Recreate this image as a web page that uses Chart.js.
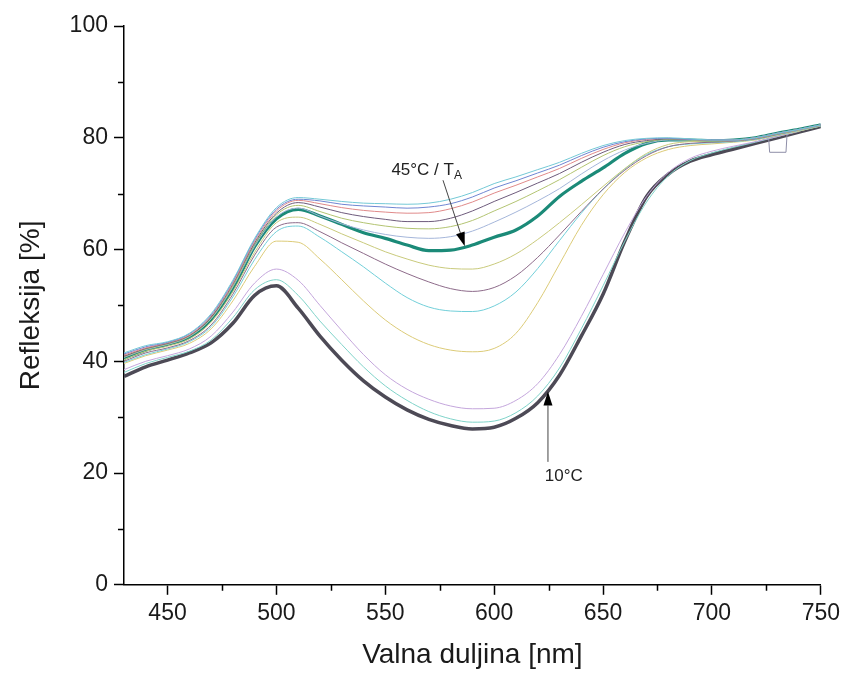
<!DOCTYPE html>
<html>
<head>
<meta charset="utf-8">
<script src="https://cdn.jsdelivr.net/npm/chart.js@4.4.7/dist/chart.umd.min.js"></script>
<style>
  html, body { margin: 0; padding: 0; background: #fff; }
  #wrap { width: 845px; height: 675px; }
</style>
</head>
<body>
<div id="wrap"><canvas id="spectra" width="845" height="675"></canvas></div>
<script>
    // wavelengths [nm] shared by all curves
    var wavelengths = [430, 440, 450, 460, 470, 480, 490, 500, 510, 520, 530, 540, 550, 560, 570, 580,
      590, 600, 610, 620, 630, 640, 650, 660, 670, 680, 690, 700, 710, 720, 730, 740, 750];

    // reflectance [%], top to bottom at the 580 nm dip
    var reflCyanTop = [41.5, 42.8, 43.5, 45.0, 48.5, 54.5, 62.0, 67.5, 69.3, 69.0, 68.6, 68.3, 68.2, 68.1, 68.3, 69.0,
      70.2, 71.8, 73.0, 74.3, 75.6, 77.2, 78.6, 79.5, 79.9, 80.0, 79.8, 79.6, 79.6, 80.0, 80.8, 81.5, 82.3];
    var reflBlue = [41.3, 42.6, 43.4, 44.9, 48.3, 54.3, 61.8, 67.2, 69.0, 68.7, 68.1, 67.8, 67.6, 67.4, 67.6, 68.2,
      69.4, 71.0, 72.3, 73.7, 75.1, 76.8, 78.3, 79.3, 79.8, 79.9, 79.7, 79.6, 79.6, 80.0, 80.8, 81.5, 82.3];
    var reflRed = [41.1, 42.4, 43.3, 44.7, 48.1, 54.0, 61.5, 66.9, 68.8, 68.2, 67.5, 67.0, 66.7, 66.5, 66.6, 67.3,
      68.5, 70.1, 71.5, 73.0, 74.5, 76.3, 77.9, 79.1, 79.7, 79.9, 79.7, 79.6, 79.6, 80.0, 80.8, 81.5, 82.3];
    var reflDarkPurple = [40.9, 42.3, 43.2, 44.6, 47.9, 53.8, 61.2, 66.5, 68.4, 67.6, 66.6, 65.9, 65.4, 65.0, 65.0, 65.6,
      66.9, 68.6, 70.2, 71.9, 73.6, 75.6, 77.4, 78.8, 79.5, 79.8, 79.7, 79.6, 79.6, 80.0, 80.8, 81.5, 82.3];
    var reflOlive = [40.8, 42.2, 43.1, 44.5, 47.7, 53.5, 60.9, 66.2, 67.9, 66.8, 65.6, 64.8, 64.2, 63.8, 63.7, 64.1,
      65.2, 66.9, 68.6, 70.5, 72.5, 74.7, 76.8, 78.4, 79.3, 79.7, 79.6, 79.5, 79.6, 80.0, 80.8, 81.5, 82.3];
    var reflSteel = [40.7, 42.1, 43.0, 44.4, 47.6, 53.3, 60.6, 65.8, 67.4, 66.0, 64.6, 63.5, 62.7, 62.2, 62.0, 62.3,
      63.3, 64.9, 66.7, 68.7, 70.9, 73.5, 75.9, 77.8, 79.0, 79.6, 79.6, 79.5, 79.6, 80.0, 80.8, 81.5, 82.3];
    var refl45C = [40.5, 42.0, 43.0, 44.3, 47.5, 53.0, 60.5, 65.5, 67.2, 66.0, 64.5, 63.0, 62.0, 60.8, 59.8, 59.9,
      60.8, 62.2, 63.5, 66.0, 69.5, 72.2, 74.6, 77.2, 79.0, 79.6, 79.6, 79.5, 79.6, 80.0, 80.8, 81.5, 82.3];
    var reflYellowGreen = [40.3, 41.8, 42.7, 44.0, 47.0, 52.5, 59.5, 64.8, 65.8, 64.5, 62.8, 61.2, 59.6, 58.3, 57.2, 56.6,
      56.5, 57.4, 59.2, 61.8, 64.8, 68.0, 71.3, 74.5, 77.2, 78.8, 79.3, 79.4, 79.5, 79.9, 80.7, 81.4, 82.2];
    var reflPlum = [40.0, 41.5, 42.4, 43.7, 46.5, 52.0, 59.0, 64.0, 64.8, 63.2, 61.2, 59.3, 57.4, 55.7, 54.2, 53.0,
      52.5, 53.2, 55.3, 58.6, 62.6, 66.8, 70.8, 74.2, 76.8, 78.4, 79.0, 79.2, 79.4, 79.8, 80.6, 81.4, 82.2];
    var reflCyanMid = [39.8, 41.2, 42.2, 43.5, 46.2, 51.5, 58.2, 63.2, 64.2, 62.2, 59.6, 56.9, 54.0, 51.4, 49.7, 49.0,
      48.9, 49.9, 52.4, 56.6, 61.6, 66.5, 70.8, 74.4, 77.0, 78.4, 78.9, 79.1, 79.3, 79.7, 80.5, 81.3, 82.1];
    var reflYellow = [39.6, 41.0, 42.0, 43.2, 45.8, 50.8, 57.0, 61.5, 61.3, 58.3, 54.6, 50.8, 47.4, 44.8, 43.0, 42.0,
      41.7, 42.3, 45.0, 50.5, 57.4, 64.3, 69.8, 73.8, 76.4, 77.9, 78.6, 78.9, 79.2, 79.6, 80.4, 81.2, 82.1];
    var reflLavender = [38.5, 40.0, 41.0, 42.2, 44.5, 48.8, 54.0, 56.5, 54.5, 50.0, 45.5, 41.2, 37.6, 35.0, 33.2, 32.0,
      31.5, 31.6, 33.0, 36.0, 41.2, 48.0, 55.5, 63.0, 69.5, 73.8, 76.3, 77.6, 78.5, 79.3, 80.2, 81.2, 82.2];
    var reflCyanLow = [38.0, 39.6, 40.7, 41.8, 43.8, 47.8, 52.8, 54.6, 51.8, 47.2, 43.0, 39.0, 35.6, 33.0, 31.0, 29.7,
      29.1, 29.3, 30.8, 33.8, 38.8, 45.8, 53.5, 61.5, 68.5, 73.2, 75.9, 77.3, 78.3, 79.2, 80.2, 81.2, 82.2];
    var refl10C = [37.3, 39.0, 40.2, 41.5, 43.3, 46.8, 51.8, 53.5, 49.5, 44.5, 40.2, 36.5, 33.6, 31.3, 29.6, 28.5,
      27.9, 28.2, 29.8, 32.6, 37.5, 44.5, 52.0, 61.5, 69.5, 73.5, 75.8, 77.0, 78.0, 79.0, 80.0, 81.0, 82.0];

    // the small step artefact near 730 nm on one trace
    var stepWavelengths = [720, 726, 726.5, 734, 734.5, 740];
    var stepRefl = [79.6, 80.2, 77.4, 77.4, 80.6, 81.1];

    var xMajorTicks = [450, 500, 550, 600, 650, 700, 750];
    var xMinorTicks = [475, 525, 575, 625, 675, 725];
    var yMajorTicks = [0, 20, 40, 60, 80, 100];
    var yMinorTicks = [10, 30, 50, 70, 90];

    var FONT = "'Liberation Sans', Arial, Helvetica, sans-serif";

    function toPoints(xs, ys) {
      return xs.map(function (x, i) { return { x: x, y: ys[i] }; });
    }

    function thin(values, color) {
      return {
        data: toPoints(wavelengths, values),
        borderColor: color,
        borderWidth: 1,
        pointRadius: 0,
        cubicInterpolationMode: "monotone",
        fill: false,
      };
    }

    var datasets = [
      thin(reflCyanTop, "#74c9d6"),
      thin(reflBlue, "#6f86d2"),
      thin(reflRed, "#e08a8a"),
      thin(reflDarkPurple, "#6e5b7c"),
      thin(reflOlive, "#b3c472"),
      thin(reflSteel, "#a5b6da"),
      thin(reflYellowGreen, "#c9ca7c"),
      thin(reflPlum, "#8d6b8a"),
      thin(reflCyanMid, "#72cfd9"),
      thin(reflYellow, "#dccb78"),
      thin(reflLavender, "#c4a6dc"),
      thin(reflCyanLow, "#7fd3c9"),
      {
        data: toPoints(stepWavelengths, stepRefl),
        borderColor: "#8e8ea8",
        borderWidth: 1,
        pointRadius: 0,
        tension: 0,
        fill: false,
      },
      {
        data: toPoints(wavelengths, refl45C),
        borderColor: "#1b8a78",
        borderWidth: 3.2,
        pointRadius: 0,
        cubicInterpolationMode: "monotone",
        fill: false,
      },
      {
        data: toPoints(wavelengths, refl10C),
        borderColor: "#4d4a56",
        borderWidth: 3.5,
        pointRadius: 0,
        cubicInterpolationMode: "monotone",
        fill: false,
      },
    ];

    // labels with arrows, in data coordinates
    var callouts = [
      { text: "45°C / T", sub: "A", at: [569, 74.4], from: [576.5, 72.4], to: [586.5, 60.6] },
      { text: "10°C", sub: "", at: [632, 19.6], from: [624.7, 22.0], to: [624.7, 34.6] },
    ];

    var minorTicksPlugin = {
      id: "minorTicks",
      afterDraw: function (chart) {
        var c = chart.ctx;
        var xs = chart.scales.x, ys = chart.scales.y;
        c.save();
        c.strokeStyle = "#000";
        c.lineWidth = 1.5;
        c.beginPath();
        xMinorTicks.forEach(function (v) {
          var px = Math.round(xs.getPixelForValue(v)) + 0.5;
          c.moveTo(px, ys.bottom);
          c.lineTo(px, ys.bottom + 6);
        });
        yMinorTicks.forEach(function (v) {
          var py = Math.round(ys.getPixelForValue(v)) + 0.5;
          c.moveTo(xs.left, py);
          c.lineTo(xs.left - 6, py);
        });
        c.stroke();
        c.restore();
      },
    };

    var calloutPlugin = {
      id: "callouts",
      afterDatasetsDraw: function (chart) {
        var c = chart.ctx;
        var xs = chart.scales.x, ys = chart.scales.y;
        c.save();
        callouts.forEach(function (n) {
          var x0 = xs.getPixelForValue(n.from[0]), y0 = ys.getPixelForValue(n.from[1]);
          var x1 = xs.getPixelForValue(n.to[0]), y1 = ys.getPixelForValue(n.to[1]);
          var ang = Math.atan2(y1 - y0, x1 - x0);
          var len = 14, half = 4.5;
          var bx = x1 - len * Math.cos(ang), by = y1 - len * Math.sin(ang);
          c.strokeStyle = "#444";
          c.lineWidth = 1;
          c.beginPath();
          c.moveTo(x0, y0);
          c.lineTo(bx, by);
          c.stroke();
          c.fillStyle = "#000";
          c.beginPath();
          c.moveTo(x1, y1);
          c.lineTo(bx + half * Math.sin(ang), by - half * Math.cos(ang));
          c.lineTo(bx - half * Math.sin(ang), by + half * Math.cos(ang));
          c.closePath();
          c.fill();

          var tx = xs.getPixelForValue(n.at[0]), ty = ys.getPixelForValue(n.at[1]);
          c.fillStyle = "#222";
          c.textBaseline = "alphabetic";
          c.font = "17px " + FONT;
          var w = c.measureText(n.text).width;
          c.font = "12px " + FONT;
          var ws = n.sub ? c.measureText(n.sub).width : 0;
          var left = tx - (w + ws) / 2;
          c.font = "17px " + FONT;
          c.textAlign = "left";
          c.fillText(n.text, left, ty + 6);
          if (n.sub) {
            c.font = "12px " + FONT;
            c.fillText(n.sub, left + w, ty + 10);
          }
        });
        c.restore();
      },
    };

    new Chart(document.getElementById("spectra"), {
      type: "line",
      data: { datasets: datasets },
      options: {
        responsive: false,
        devicePixelRatio: 1,
        animation: false,
        layout: { padding: { top: 26, right: 6, left: 14, bottom: 3 } },
        plugins: {
          legend: { display: false },
          tooltip: { enabled: false },
        },
        scales: {
          x: {
            type: "linear",
            min: 430,
            max: 750,
            afterBuildTicks: function (s) {
              s.ticks = xMajorTicks.map(function (v) { return { value: v }; });
            },
            ticks: {
              autoSkip: false,
              maxRotation: 0,
              padding: 5,
              color: "#1a1a1a",
              font: { family: FONT, size: 23 },
              callback: function (v) { return String(v); },
            },
            grid: {
              drawOnChartArea: false,
              drawTicks: true,
              tickLength: 10,
              tickColor: "#000",
              tickWidth: 1.5,
            },
            border: { display: true, color: "#000", width: 1.5 },
            title: {
              display: true,
              text: "Valna duljina [nm]",
              color: "#1a1a1a",
              font: { family: FONT, size: 28 },
              padding: { top: 6, bottom: 0 },
            },
          },
          y: {
            type: "linear",
            min: 0,
            max: 100,
            afterBuildTicks: function (s) {
              s.ticks = yMajorTicks.map(function (v) { return { value: v }; });
            },
            ticks: {
              autoSkip: false,
              padding: 6,
              color: "#1a1a1a",
              font: { family: FONT, size: 23 },
              callback: function (v) { return String(v); },
            },
            grid: {
              drawOnChartArea: false,
              drawTicks: true,
              tickLength: 10,
              tickColor: "#000",
              tickWidth: 1.5,
            },
            border: { display: true, color: "#000", width: 1.5 },
            title: {
              display: true,
              text: "Refleksija [%]",
              color: "#1a1a1a",
              font: { family: FONT, size: 28 },
              padding: { top: 0, bottom: 16 },
            },
          },
        },
      },
      plugins: [minorTicksPlugin, calloutPlugin],
    });
</script>
</body>
</html>
